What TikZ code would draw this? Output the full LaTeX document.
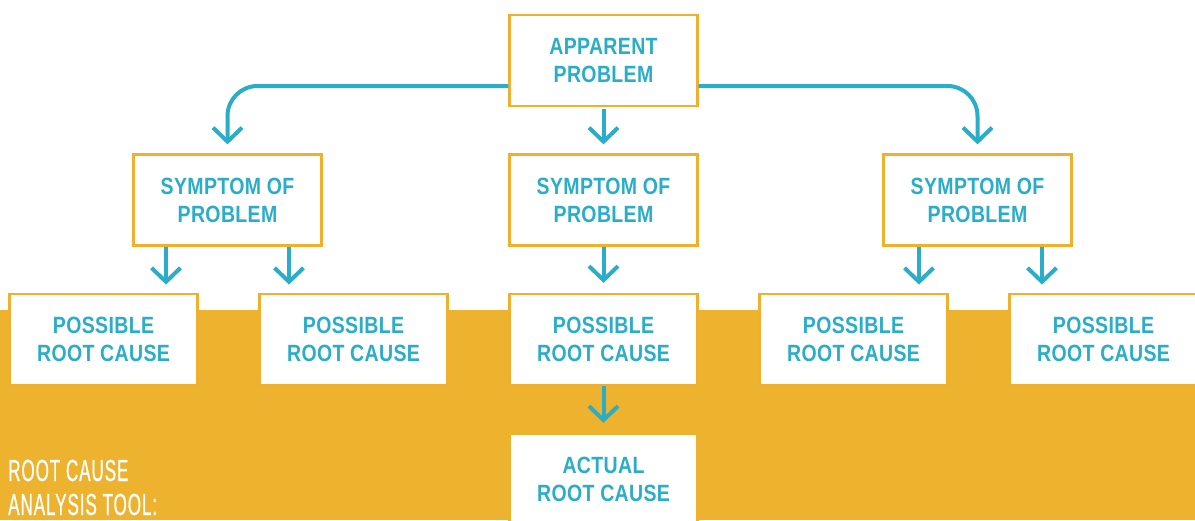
\documentclass[tikz,border=0pt]{standalone}
\usepackage{fontspec}
\setmainfont{Liberation Sans}
\newfontfamily\boxfont{Liberation Sans}[FakeStretch=0.83,LetterSpace=1.5]
\newfontfamily\titlefont{Liberation Sans}[FakeStretch=0.56,FakeBold=0.6,LetterSpace=3]
\usetikzlibrary{arrows.meta,calc}
\definecolor{teal}{HTML}{2AADC8}
\definecolor{ornge}{HTML}{EDB22E}
\definecolor{bord}{HTML}{F0B02E}
\tikzset{
  box/.style={draw=bord, line width=2.2pt, fill=white, minimum width=188pt, minimum height=91pt,
    inner sep=0pt, align=center, text=teal, font=\boxfont\bfseries\fontsize{23.5}{28}\selectfont},
  arr/.style={draw=teal, line width=4pt, -{Straight Barb[length=14pt,width=29pt,line width=4pt]}},
}
\begin{document}
\begin{tikzpicture}[x=1pt,y=-1pt]
\useasboundingbox (0,0) rectangle (1195,520);
\clip (0,0) rectangle (1195,520);
\fill[ornge] (0,310) rectangle (1195,520);
\node[box] (ap) at (603.5,60.5) {APPARENT\\PROBLEM};
\node[box] (s1) at (227.5,200) {SYMPTOM OF\\PROBLEM};
\node[box] (s2) at (603.5,200) {SYMPTOM OF\\PROBLEM};
\node[box] (s3) at (977.5,200) {SYMPTOM OF\\PROBLEM};
\node[box] (p1) at (103.5,339.5) {POSSIBLE\\ROOT CAUSE};
\node[box] (p2) at (353.5,339.5) {POSSIBLE\\ROOT CAUSE};
\node[box] (p3) at (603.5,339.5) {POSSIBLE\\ROOT CAUSE};
\node[box] (p4) at (853.5,339.5) {POSSIBLE\\ROOT CAUSE};
\node[box] (p5) at (1103.5,339.5) {POSSIBLE\\ROOT CAUSE};
\node[box, draw=ornge] (ac) at (603.5,479.5) {ACTUAL\\ROOT CAUSE};
\node[anchor=base west, inner sep=0pt, align=left, text=white,
  font=\titlefont\fontsize{30.5}{34}\selectfont] (title) at (8,515) {ROOT CAUSE\\ANALYSIS TOOL:};
\coordinate (lvl) at (0,86);
\draw[arr, rounded corners=30pt] (ap.west |- lvl) -| ([yshift=9pt]s1.north);
\draw[arr, rounded corners=30pt] (ap.east |- lvl) -| ([yshift=9pt]s3.north);
\draw[arr] ([yshift=-2pt]ap.south) -- ([yshift=9pt]s2.north);
\draw[arr] ($(s1.south)+(-61.5,0)$) -- ($(s1.south)+(-61.5,38)$);
\draw[arr] ($(s1.south)+(61.5,0)$) -- ($(s1.south)+(61.5,38)$);
\draw[arr] (s2.south) -- ([yshift=10pt]p3.north);
\draw[arr] ($(s3.south)+(-58.5,0)$) -- ($(s3.south)+(-58.5,38)$);
\draw[arr] ($(s3.south)+(64.5,0)$) -- ($(s3.south)+(64.5,38)$);
\draw[arr] (p3.south) -- ([yshift=10pt]ac.north);
\end{tikzpicture}
\end{document}
